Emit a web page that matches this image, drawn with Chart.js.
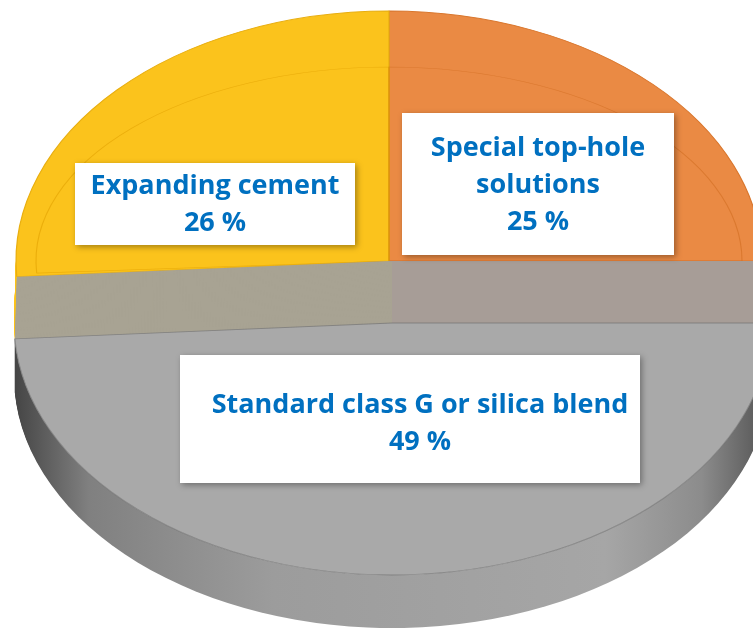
<!DOCTYPE html>
<html>
<head>
<meta charset="utf-8">
<script src="https://cdn.jsdelivr.net/npm/chart.js@4.4.1/dist/chart.umd.min.js"></script>
<style>
  html, body { margin: 0; padding: 0; background: #fff; }
  #wrap { width: 753px; height: 628px; position: relative; }
</style>
</head>
<body>
<div id="wrap"><canvas id="pie-chart"></canvas></div>
<script>
// data, clockwise from 12 o'clock
const sliceNames = [['Special top-hole', 'solutions'], ['Standard class G or silica blend'], ['Expanding cement']];
const sliceShares = [25, 49, 26];
const sliceColors = ['#EA8A44', '#A0A0A0', '#FBC31C'];
const sliceEdges = ['#D9772E', '#8C8C8C', '#E8AE10'];

// projection of the flat pie onto the tilted disc (back level / front level)
const upper = { y: 261, cx: 389, rx: 373, ry: 250 };
const lower = { y: 323, cx: 392, rx: 378, ry: 252 };
const depth = 53;
// white label boxes [x, y, w, h, text dx, text dy]
const boxes = [[402, 113, 272, 142, 0, 0], [180, 355, 460, 128, 10, 4], [75, 163, 280, 82, 0, 0]];

function geomAt(cy) {
  const t = Math.max(0, Math.min(1, (cy - upper.y) / (lower.y - upper.y)));
  return {
    cx: upper.cx + (lower.cx - upper.cx) * t,
    rx: upper.rx + (lower.rx - upper.rx) * t,
    ry: upper.ry + (lower.ry - upper.ry) * t
  };
}

function drawSlice(ctx, el, cy, opts, kx = 1, ky = 1) {
  const g = geomAt(cy);
  ctx.save();
  ctx.translate(g.cx, cy);
  ctx.scale(g.rx * kx / el.outerRadius, g.ry * ky / el.outerRadius);
  ctx.translate(-el.x, -el.y);
  const saved = el.options;
  if (opts) el.options = Object.assign({}, saved, opts);
  el.draw(ctx);
  el.options = saved;
  ctx.restore();
}

const tiltedPie = {
  id: 'tiltedPie',
  beforeDatasetsDraw(chart) {
    const ctx = chart.ctx;
    const [orange, gray, yellow] = chart.getDatasetMeta(0).data;
    const flat = { borderWidth: 0 };

    // side wall under the gray face
    for (let d = depth; d >= 0; d--) {
      drawSlice(ctx, gray, lower.y + d, { ...flat, backgroundColor: '#999' });
    }
    ctx.save();
    ctx.globalCompositeOperation = 'source-atop';
    const g = ctx.createLinearGradient(15, 0, chart.width, 0);
    g.addColorStop(0, '#454545');
    g.addColorStop(0.1, '#808080');
    g.addColorStop(0.35, '#9c9c9c');
    g.addColorStop(0.8, '#a6a6a6');
    g.addColorStop(0.93, '#8c8c8c');
    g.addColorStop(1, '#606060');
    ctx.fillStyle = g;
    ctx.fillRect(0, 0, chart.width, chart.height);
    ctx.restore();

    // white underlay for the translucent gray block
    for (let y = upper.y; y <= lower.y; y++) {
      drawSlice(ctx, gray, y, { ...flat, backgroundColor: '#fff' });
    }

    // yellow and orange: thickness, then top face, then bevel ring
    [orange, yellow].forEach(el => {
      for (let y = lower.y; y > upper.y; y--) drawSlice(ctx, el, y, flat);
    });
    [orange, yellow].forEach(el => drawSlice(ctx, el, upper.y));
    [orange, yellow].forEach((el, i) => {
      drawSlice(ctx, el, upper.y,
        { backgroundColor: 'rgba(0,0,0,0)', borderColor: i === 0 ? 'rgba(205,105,30,0.55)' : 'rgba(225,160,0,0.6)', borderWidth: 1 },
        353 / 373, 194 / 250);
    });

    // translucent gray block drawn offscreen, then laid on
    const off = document.createElement('canvas');
    off.width = chart.width;
    off.height = chart.height;
    const octx = off.getContext('2d');
    for (let y = upper.y; y <= lower.y; y++) drawSlice(octx, gray, y, flat);
    ctx.save();
    ctx.globalAlpha = 0.9;
    ctx.drawImage(off, 0, 0, chart.width, chart.height);
    ctx.restore();

    // rim of the gray face
    drawSlice(ctx, gray, lower.y, { backgroundColor: 'rgba(0,0,0,0)', borderColor: 'rgba(115,115,115,0.7)', borderWidth: 1 });
    return false;
  },
  afterDraw(chart) {
    const ctx = chart.ctx;
    const data = chart.data.datasets[0].data;
    boxes.forEach((b, i) => {
      ctx.save();
      ctx.shadowColor = 'rgba(0,0,0,0.35)';
      ctx.shadowBlur = 6;
      ctx.shadowOffsetX = 2;
      ctx.shadowOffsetY = 2;
      ctx.fillStyle = '#fff';
      ctx.fillRect(b[0], b[1], b[2], b[3]);
      ctx.restore();

      const lines = sliceNames[i].concat([data[i] + ' %']);
      const lh = 37;
      const mid = b[1] + b[3] / 2 + 1 + b[5];
      ctx.save();
      ctx.fillStyle = '#0070C0';
      ctx.font = 'bold 27px "Open Sans"';
      ctx.textAlign = 'center';
      ctx.textBaseline = 'middle';
      lines.forEach((t, k) => {
        ctx.fillText(t, b[0] + b[2] / 2 + b[4], mid + (k - (lines.length - 1) / 2) * lh);
      });
      ctx.restore();
    });
  }
};

new Chart(document.getElementById('pie-chart'), {
  type: 'pie',
  data: {
    labels: sliceNames.map(n => n.join(' ')),
    datasets: [{
      data: sliceShares,
      backgroundColor: sliceColors,
      borderColor: sliceEdges,
      borderWidth: 1
    }]
  },
  options: {
    responsive: true,
    maintainAspectRatio: false,
    animation: false,
    layout: { padding: 0 },
    plugins: {
      legend: { display: false },
      tooltip: { enabled: false }
    }
  },
  plugins: [tiltedPie]
});
</script>
</body>
</html>
